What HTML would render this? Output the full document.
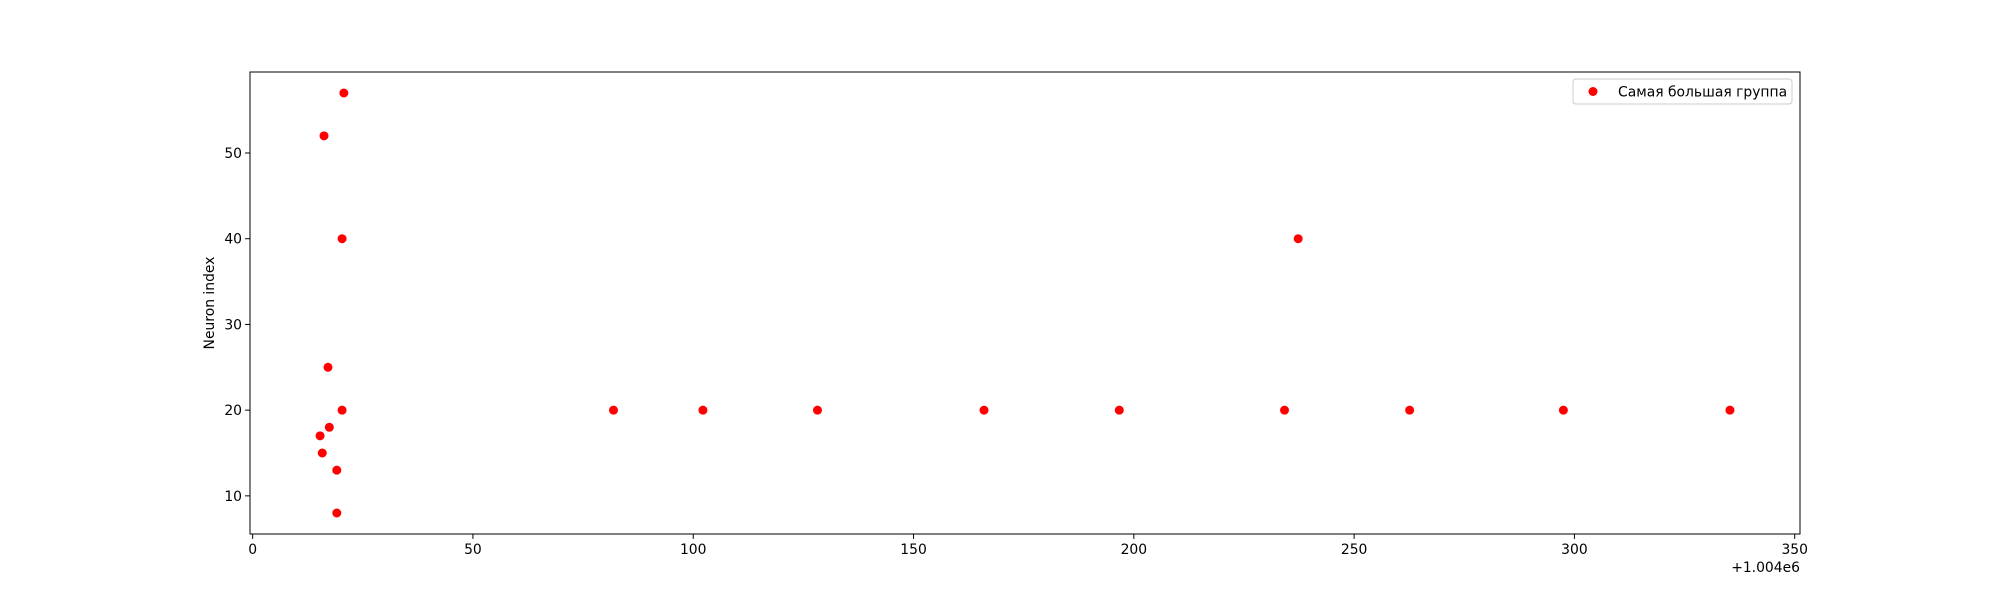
<!DOCTYPE html>
<html><head><meta charset="utf-8"><style>
body{margin:0;background:#fff}
svg{display:block;font-family:"DejaVu Sans","Liberation Sans",sans-serif}
</style></head><body>
<svg id="chart" width="2000" height="600" xmlns="http://www.w3.org/2000/svg">
<rect width="2000" height="600" fill="#fff"/>
<g id="ticks"></g>
<g id="points"></g>
<rect x="250" y="72" width="1550" height="462" fill="none" stroke="#000" stroke-width="1"/>
<text transform="translate(214,303) rotate(-90)" text-anchor="middle" font-size="13.9">Neuron index</text>
<text x="1800" y="572" text-anchor="end" font-size="13.9">+1.004e6</text>
<g>
<rect x="1573" y="79" width="219" height="25" rx="3" fill="#fff" stroke="#ccc"/>
<circle cx="1593" cy="91.5" r="4.5" fill="red"/>
<text x="1618" y="96.5" font-size="13.9">Самая большая группа</text>
</g>
</svg>
<script>
const xValues=[20.7,16.2,20.3,17.1,20.3,17.4,15.3,15.8,19.1,19.1,81.9,102.2,128.2,166.0,196.7,234.2,262.6,297.5,335.3,237.3];
const yValues=[57,52,40,25,20,18,17,15,13,8,20,20,20,20,20,20,20,20,20,40];
const xTicks=[0,50,100,150,200,250,300,350];
const yTicks=[10,20,30,40,50];
const X0=250,X1=1800,Y0=534,Y1=72;
const xmin=-0.6,xmax=351.2,ymin=5.55,ymax=59.45;
const sx=v=>X0+(v-xmin)/(xmax-xmin)*(X1-X0);
const sy=v=>Y0-(v-ymin)/(ymax-ymin)*(Y0-Y1);
const NS="http://www.w3.org/2000/svg";
const tg=document.getElementById('ticks');
const pg=document.getElementById('points');
xTicks.forEach(t=>{
  const l=document.createElementNS(NS,'line');
  l.setAttribute('x1',sx(t));l.setAttribute('x2',sx(t));l.setAttribute('y1',Y0);l.setAttribute('y2',Y0+4.9);l.setAttribute('stroke','#000');
  
  
  tg.appendChild(l);
  const tx=document.createElementNS(NS,'text');
  tx.setAttribute('x',sx(t));tx.setAttribute('y',Y0+20);tx.setAttribute('text-anchor','middle');tx.setAttribute('font-size','13.9');
  tx.textContent=t;
  
  
  tg.appendChild(tx);
});
yTicks.forEach(t=>{
  const l=document.createElementNS(NS,'line');
  l.setAttribute('x1',X0-4.9);l.setAttribute('x2',X0);l.setAttribute('y1',sy(t));l.setAttribute('y2',sy(t));l.setAttribute('stroke','#000');
  
  
  tg.appendChild(l);
  const tx=document.createElementNS(NS,'text');
  tx.setAttribute('x',X0-8);tx.setAttribute('y',sy(t)+5);tx.setAttribute('text-anchor','end');tx.setAttribute('font-size','13.9');
  tx.textContent=t;
  
  
  tg.appendChild(tx);
});
xValues.forEach((v,i)=>{
  const c=document.createElementNS(NS,'circle');
  c.setAttribute('cx',sx(v));c.setAttribute('cy',sy(yValues[i]));c.setAttribute('r','4.5');c.setAttribute('fill','red');
  
  
  pg.appendChild(c);
});
</script>
</body></html>
